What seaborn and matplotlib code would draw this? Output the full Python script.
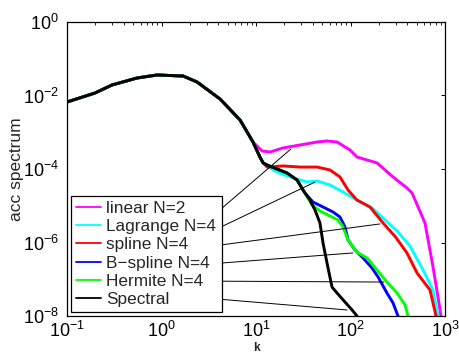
import numpy as np
import pandas as pd
import matplotlib
matplotlib.use("Agg")
import matplotlib.pyplot as plt
import matplotlib.ticker as mticker
import seaborn as sns

# Low-wavenumber part shared by every scheme
k_common = [0.1, 0.198, 0.299, 0.551, 0.895, 1.69, 2.38, 4.16, 6.78, 9.29, 11.0]
s_common = [6.65e-3, 1.17e-2, 1.93e-2, 2.99e-2, 3.61e-2, 3.39e-2, 2.33e-2,
            8.03e-3, 2.15e-3, 5.43e-4, 2.12e-4]

# Junction where the higher-order schemes leave the common branch
k_junction = [11.9]
s_junction = [1.46e-4]

# High-wavenumber tails
k_linear = [11.6, 14.1, 19.3, 29.2, 44.3, 56.4, 72.0, 98.8, 117, 191, 282,
            396, 448, 614, 747, 843, 907, 929]
s_linear = [3.09e-4, 2.90e-4, 3.73e-4, 4.50e-4, 5.43e-4, 5.78e-4, 5.43e-4,
            3.29e-4, 2.12e-4, 1.46e-4, 6.05e-5, 3.04e-5, 2.22e-5, 3.40e-6,
            2.15e-7, 3.29e-8, 1.0e-8, 5.7e-9]

k_lagrange = [14.1, 16.7, 24.6, 34.7, 44.3, 60.7, 83.3, 117, 169, 232, 311,
              426, 585, 747, 843, 864]
s_lagrange = [1.06e-4, 8.28e-5, 5.69e-5, 4.43e-5, 4.71e-5, 3.67e-5, 2.37e-5,
              1.43e-5, 8.68e-6, 4.10e-6, 2.06e-6, 8.03e-7, 1.79e-7, 5.1e-8,
              1.0e-8, 5.7e-9]

k_spline = [13.1, 19.3, 29.2, 44.3, 60.7, 77.4, 94.1, 117, 161, 221, 300,
            396, 506, 694, 803, 823]
s_spline = [1.13e-4, 1.21e-4, 1.13e-4, 1.13e-4, 9.4e-5, 6.05e-5, 2.68e-5,
            1.43e-5, 9.2e-6, 3.40e-6, 1.41e-6, 5.18e-7, 1.48e-7, 5.1e-8,
            1.0e-8, 5.7e-9]

k_spectral = [13.1, 16.7, 21.3, 27.2, 31.4, 37.2, 42.1, 47.5, 51.2, 56.4,
              63.7, 72.0, 87.5, 104, 117, 126]
s_spectral = [1.28e-4, 1.0e-4, 7.78e-5, 5.02e-5, 2.68e-5, 1.43e-5, 7.66e-6,
              3.40e-6, 9.7e-7, 2.77e-7, 6.15e-8, 4.23e-8, 2.40e-8, 1.46e-8,
              1.0e-8, 6.9e-9]

k_bspline = [13.1, 16.7, 21.3, 27.2, 33.0, 40.1, 51.2, 65.3, 77.4, 87.5, 94.1,
             112, 136, 169, 196, 243, 282, 318, 334]
s_bspline = [1.28e-4, 1.0e-4, 7.78e-5, 5.02e-5, 2.22e-5, 1.26e-5, 9.25e-6,
             6.76e-6, 4.94e-6, 2.64e-6, 1.17e-6, 6.25e-7, 3.78e-7, 2.02e-7,
             1.15e-7, 4.23e-8, 2.26e-8, 1.0e-8, 6.9e-9]

k_hermite = [13.1, 16.7, 21.3, 27.2, 33.0, 39.2, 47.5, 60.7, 73.8, 83.3, 94.1,
             117, 150, 191, 243, 311, 378, 406, 426]
s_hermite = [1.28e-4, 1.0e-4, 7.78e-5, 5.02e-5, 2.22e-5, 1.05e-5, 7.2e-6,
             5.26e-6, 4.10e-6, 2.64e-6, 1.17e-6, 5.51e-7, 3.78e-7, 1.79e-7,
             8.42e-8, 4.23e-8, 1.99e-8, 1.0e-8, 6.9e-9]

labels = ["linear N=2", "Lagrange N=4", "spline N=4", "B\u2212spline N=4",
          "Hermite N=4", "Spectral"]
colors = ["#ff00ff", "#00ffff", "#ff0000", "#0000ff", "#00ff00", "#000000"]

# Points on each curve that the legend entries point to
pointer_k = [23.4, 42.0, 205, 106, 226, 92]
pointer_s = [3.5e-4, 4.4e-5, 3.2e-6, 5.2e-7, 8.4e-8, 1.46e-8]

tails = [
    (k_linear, s_linear, False),
    (k_lagrange, s_lagrange, True),
    (k_spline, s_spline, True),
    (k_bspline, s_bspline, True),
    (k_hermite, s_hermite, True),
    (k_spectral, s_spectral, True),
]

frames = []
for name, (kt, st, via_junction) in zip(labels, tails):
    if via_junction:
        k = k_common + k_junction + kt
        s = s_common + s_junction + st
    else:
        k = k_common[:-1] + kt
        s = s_common[:-1] + st
    frames.append(pd.DataFrame({"k": k, "spectrum": s, "scheme": name}))
df = pd.concat(frames, ignore_index=True)

sns.set_theme(style="white")
plt.rcParams["font.family"] = ["Liberation Sans", "DejaVu Sans"]
plt.rcParams["mathtext.fontset"] = "custom"
plt.rcParams["mathtext.rm"] = "Liberation Sans"
plt.rcParams["mathtext.it"] = "Liberation Sans:italic"
plt.rcParams["mathtext.bf"] = "Liberation Sans:bold"

fig = plt.figure(figsize=(4.6, 3.54), dpi=100)
ax = fig.add_axes([0.1457, 0.1073, 0.8217, 0.8306])

sns.lineplot(data=df, x="k", y="spectrum", hue="scheme", hue_order=labels,
             palette=colors, estimator=None, sort=False, linewidth=2.1,
             legend=False, ax=ax)

ax.set_xscale("log")
ax.set_yscale("log")
ax.set_xlim(1e-1, 1e3)
ax.set_ylim(1e-8, 1e0)

ax.xaxis.set_major_locator(mticker.LogLocator(base=10, numticks=10))
ax.xaxis.set_minor_locator(mticker.LogLocator(base=10, subs=np.arange(2, 10), numticks=20))
ax.xaxis.set_major_formatter(mticker.LogFormatterMathtext())
ax.set_yticks(10.0 ** np.arange(-8, 1, 2))
ax.yaxis.set_minor_locator(mticker.NullLocator())
ax.yaxis.set_major_formatter(mticker.LogFormatterMathtext())

ax.tick_params(which="both", direction="in", top=True, right=True,
               colors="black", labelsize=13)
ax.tick_params(which="major", length=3.2, width=0.7)
ax.tick_params(which="minor", length=1.8, width=0.6)
ax.tick_params(axis="x", which="major", pad=3.5)
ax.tick_params(axis="y", which="major", pad=6)
for sp in ax.spines.values():
    sp.set_color("black")
    sp.set_linewidth(0.9)

ax.set_xlabel("k", fontsize=8.5, fontweight="bold", va="bottom")
ax.xaxis.set_label_coords(0.5, -0.128)
ax.set_ylabel("acc spectrum", fontsize=12.5, labelpad=-1)

leg = ax.legend(ax.get_lines()[:len(labels)], labels, loc="lower left",
                bbox_to_anchor=(0.0106, 0.0136), borderaxespad=0,
                fontsize=12.4, frameon=True, fancybox=False, framealpha=1,
                edgecolor="black", handlelength=1.45, handletextpad=0.3,
                labelspacing=0.18, borderpad=0.3)
leg.get_frame().set_linewidth(0.9)
for h in leg.get_lines():
    h.set_linewidth(1.3)

# Leader lines from each legend entry to its curve
fig.canvas.draw()
frame_bb = leg.get_frame().get_window_extent()
to_axes = ax.transAxes.inverted()
for txt, kp, sp in zip(leg.get_texts(), pointer_k, pointer_s):
    tb = txt.get_window_extent()
    x0, y0 = to_axes.transform((frame_bb.x1, (tb.y0 + tb.y1) / 2))
    ax.annotate("", xy=(kp, sp), xycoords="data",
                xytext=(x0, y0), textcoords="axes fraction",
                arrowprops=dict(arrowstyle="-", color="black", lw=0.7,
                                shrinkA=0, shrinkB=0))

fig.savefig("out.png", dpi=100)
